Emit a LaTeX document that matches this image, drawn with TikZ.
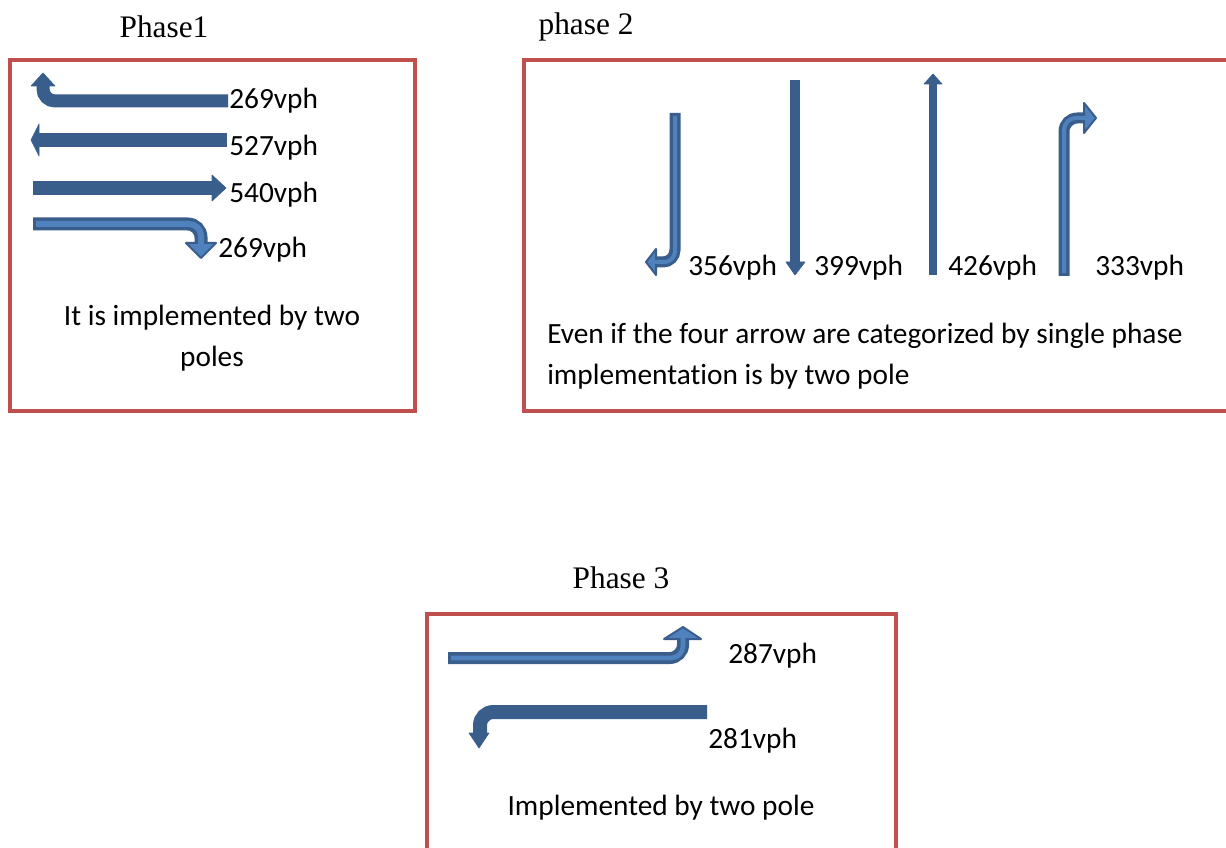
\documentclass[tikz,border=0pt]{standalone}
\usepackage{fontspec}
\setmainfont{Liberation Serif}
\newfontfamily\calib[Ligatures={NoCommon,NoContextual}]{Carlito}
\definecolor{boxred}{HTML}{C0504D}
\definecolor{adark}{HTML}{3A5E8C}
\definecolor{alight}{HTML}{4F81BD}
\begin{document}
\begin{tikzpicture}[x=0.75pt,y=-0.75pt,
  frame/.style={draw=boxred,line width=3pt},
  title/.style={font=\fontsize{23.5}{28}\selectfont,inner sep=0pt},
  lbl/.style={font=\calib\fontsize{22}{26}\selectfont,inner sep=0pt,anchor=west},
  caption/.style={font=\calib\fontsize{22}{30.75}\selectfont,inner sep=0pt},
  solidshaft/.style={draw=adark,line cap=butt},
  solidhead/.style={fill=adark,draw=adark,line width=0.5pt,line join=round},
  outshaft/.style={draw=adark},
  inshaft/.style={draw=alight},
  outhead/.style={fill=alight,draw=adark,line width=1.5pt,line join=round}]
\useasboundingbox (0,0) rectangle (1226,848);
\fill[white] (0,0) rectangle (1226,848);

% frames
\draw[frame] (10,60) rectangle (415,411);
\draw[frame] (524,60) rectangle (1240,411);
\draw[frame] (427,614) rectangle (896,860);

% titles
\node[title] (t1) at (164,27) {Phase1};
\node[title] (t2) at (586,27) {phase 2};
\node[title] (t3) at (621,578) {Phase 3};

% ---- Phase 1 arrows
\draw[solidshaft,line width=9.75pt,rounded corners=9pt] (228,101) -- (43,101) -- (43,86);
\fill[solidhead] (31,86) -- (43,73) -- (55,86) -- cycle;

\draw[solidshaft,line width=11pt] (227,140) -- (38,140);
\fill[solidhead] (39,124) -- (31,140) -- (39,156) -- cycle;

\draw[solidshaft,line width=10.5pt] (33,188) -- (213,188);
\fill[solidhead] (212,175) -- (226,188) -- (212,201) -- cycle;

\draw[outshaft,line width=9.75pt,rounded corners=10pt] (33,224) -- (201,224) -- (201,244);
\filldraw[outhead] (186,243) -- (201,258) -- (216,243) -- cycle;
\draw[inshaft,line width=4.5pt,rounded corners=9pt] (36,224) -- (201,224) -- (201,245);

\node[lbl] (l1) at (229,101) {269vph};
\node[lbl] (l2) at (229,148) {527vph};
\node[lbl] (l3) at (229,195) {540vph};
\node[lbl] (l4) at (218,250) {269vph};

\node[caption,align=center] (c1) at (212,338) {It is implemented by two\\poles};

% ---- Phase 2 arrows
\draw[outshaft,line width=8.25pt,rounded corners=9pt] (675,113) -- (675,262) -- (655,262);
\filldraw[outhead] (656,249) -- (646,262) -- (656,275) -- cycle;
\draw[inshaft,line width=3pt,rounded corners=8pt] (675,116) -- (675,262) -- (654,262);

\draw[solidshaft,line width=7.5pt] (795,80) -- (795,263);
\fill[solidhead] (786,262) -- (795,275) -- (805,262) -- cycle;

\draw[solidshaft,line width=6pt] (933,275) -- (933,83);
\fill[solidhead] (924,84) -- (933,74) -- (942,84) -- cycle;

\draw[outshaft,line width=8.25pt,rounded corners=10pt] (1064,276) -- (1064,118) -- (1085,118);
\filldraw[outhead] (1084,103) -- (1096,118) -- (1084,133) -- cycle;
\draw[inshaft,line width=3pt,rounded corners=9pt] (1064,273) -- (1064,118) -- (1086,118);

\node[lbl] (l5) at (688,268) {356vph};
\node[lbl] (l6) at (814,268) {399vph};
\node[lbl] (l7) at (948,268) {426vph};
\node[lbl] (l8) at (1095,268) {333vph};

\node[caption,align=left,anchor=west] (c2) at (547,356) {Even if the four arrow are categorized by single phase\\implementation is by two pole};

% ---- Phase 3 arrows
\draw[outshaft,line width=9pt,rounded corners=10pt] (448,658) -- (683,658) -- (683,638);
\filldraw[outhead] (664,639) -- (683,627) -- (701,639) -- cycle;
\draw[inshaft,line width=3.5pt,rounded corners=9pt] (451,658) -- (683,658) -- (683,637);

\draw[solidshaft,line width=10.5pt,rounded corners=10pt] (707,712) -- (480,712) -- (480,734);
\fill[solidhead] (469,733) -- (479,748) -- (489,733) -- cycle;

\node[lbl] (l9) at (728,656) {287vph};
\node[lbl] (l10) at (708,741) {281vph};

\node[caption] (c3) at (661,808) {Implemented by two pole};
\end{tikzpicture}
\end{document}
